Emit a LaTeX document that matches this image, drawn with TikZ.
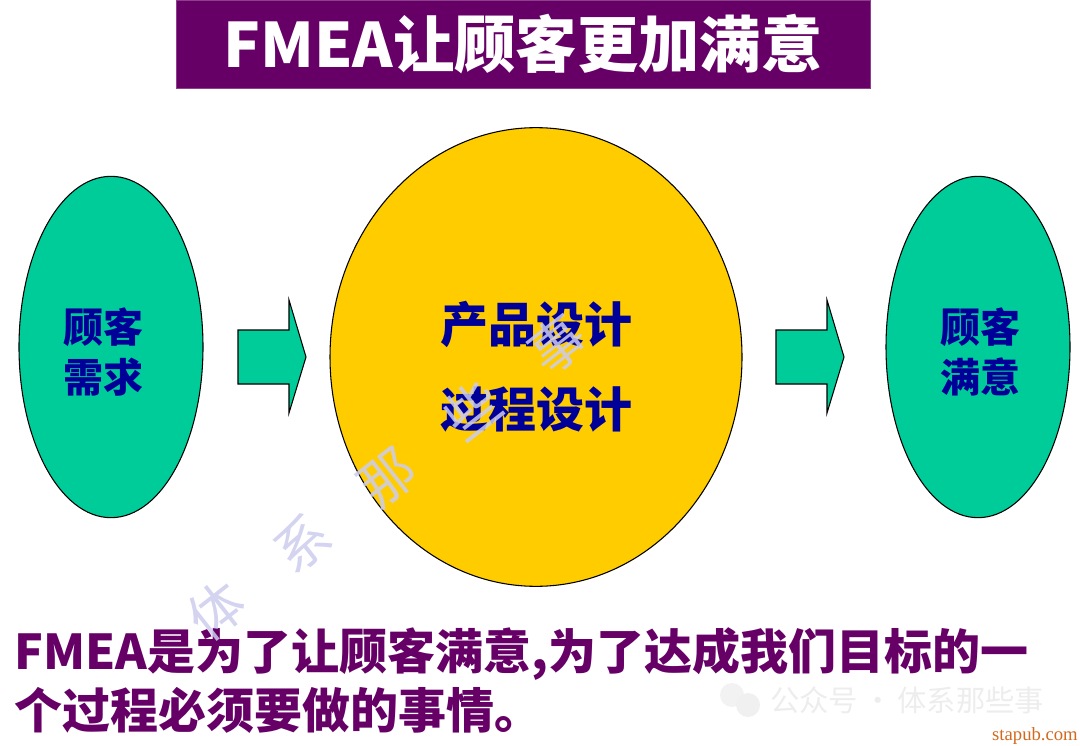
\documentclass[tikz,border=0pt]{standalone}
\usepackage{fontspec}
\setmainfont{Noto Sans CJK SC}[BoldFont={Noto Sans CJK SC Black}]
\newfontfamily\stampfont{Liberation Serif}
\usetikzlibrary{shapes.geometric}

\definecolor{plum}{HTML}{660066}
\definecolor{mint}{HTML}{00CC99}
\definecolor{gold}{HTML}{FFCC00}
\definecolor{navyblue}{HTML}{000099}
\definecolor{lavender}{HTML}{CCCCEE}
\definecolor{stampbrown}{HTML}{D2691E}

\tikzset{
  blob/.style={ellipse, draw=black, line width=0.8pt, inner sep=0pt},
  blobtext/.style={text=navyblue, align=center, inner sep=0pt},
  blockarrow/.style={draw=black, line width=0.8pt, fill=mint},
  watermark/.style={text=lavender, text opacity=0.85, font=\fontsize{41}{41}\selectfont}
}

\begin{document}
\begin{tikzpicture}[x=0.75pt, y=-0.75pt]
    \useasboundingbox (0,0) rectangle (1080,745);

    % Title bar
    \node[fill=plum, draw=plum!75, minimum width=520.5pt, minimum height=66pt, inner sep=0pt,
          text=white, font=\bfseries\fontsize{46}{46}\selectfont] (title) at (523,44) {FMEA让顾客更加满意};

    % Draw the three ellipses
    \node[blob, fill=mint, minimum width=138pt, minimum height=256pt] (need) at (111,347) {};
    \node[blob, fill=gold, minimum width=309pt, minimum height=344pt] (design) at (536,357) {};
    \node[blob, fill=mint, minimum width=138pt, minimum height=256pt] (pleased) at (978,347) {};

    % Labels
    \node[blobtext, font=\bfseries\fontsize{30}{37.5}\selectfont] (needtext) at ([xshift=-6pt, yshift=-4pt]need.center) {顾客\\需求};
    \node[blobtext, font=\bfseries\fontsize{36}{63.75}\selectfont] (designtext) at ([yshift=-7.5pt]design.center) {产品设计\\过程设计};
    \node[blobtext, font=\bfseries\fontsize{30}{37.5}\selectfont] (pleasedtext) at ([xshift=2pt, yshift=-4pt]pleased.center) {顾客\\满意};

    % Block arrows
    \draw[blockarrow] (238,330) -- (289,330) -- (289,300) -- (306,357) -- (289,413) -- (289,384) -- (238,384) -- cycle;
    \draw[blockarrow] (776,330) -- (827,330) -- (827,300) -- (844,357) -- (827,413) -- (827,384) -- (776,384) -- cycle;

    % Bottom sentence
    \node[anchor=base west, inner sep=0pt, text=plum, font=\bfseries\fontsize{36}{36}\selectfont] (lineA) at (14,669) {FMEA是为了让顾客满意,为了达成我们目标的一};
    \node[anchor=base west, inner sep=0pt, text=plum, font=\bfseries\fontsize{36}{36}\selectfont] (lineB) at (14,728) {个过程必须要做的事情。};

    % Watermarks
    \node[watermark, rotate=38] (mark) at (387,477) {体\hspace{40pt}系\hspace{40pt}那\hspace{40pt}些\hspace{40pt}事};
    \fill[gray!10] (732,695) circle (12);
    \fill[gray!12] (748,705) circle (12);
    \node[anchor=west, inner sep=0pt, text=gray!14, font=\fontsize{22}{22}\selectfont] (account) at (770,700) {公众号\,·\,体系那些事};
    \node[anchor=base east, inner sep=0pt, text=stampbrown, font=\stampfont\fontsize{14}{14}\selectfont] (stamp) at (1078,740) {stapub.com};
\end{tikzpicture}
\end{document}
